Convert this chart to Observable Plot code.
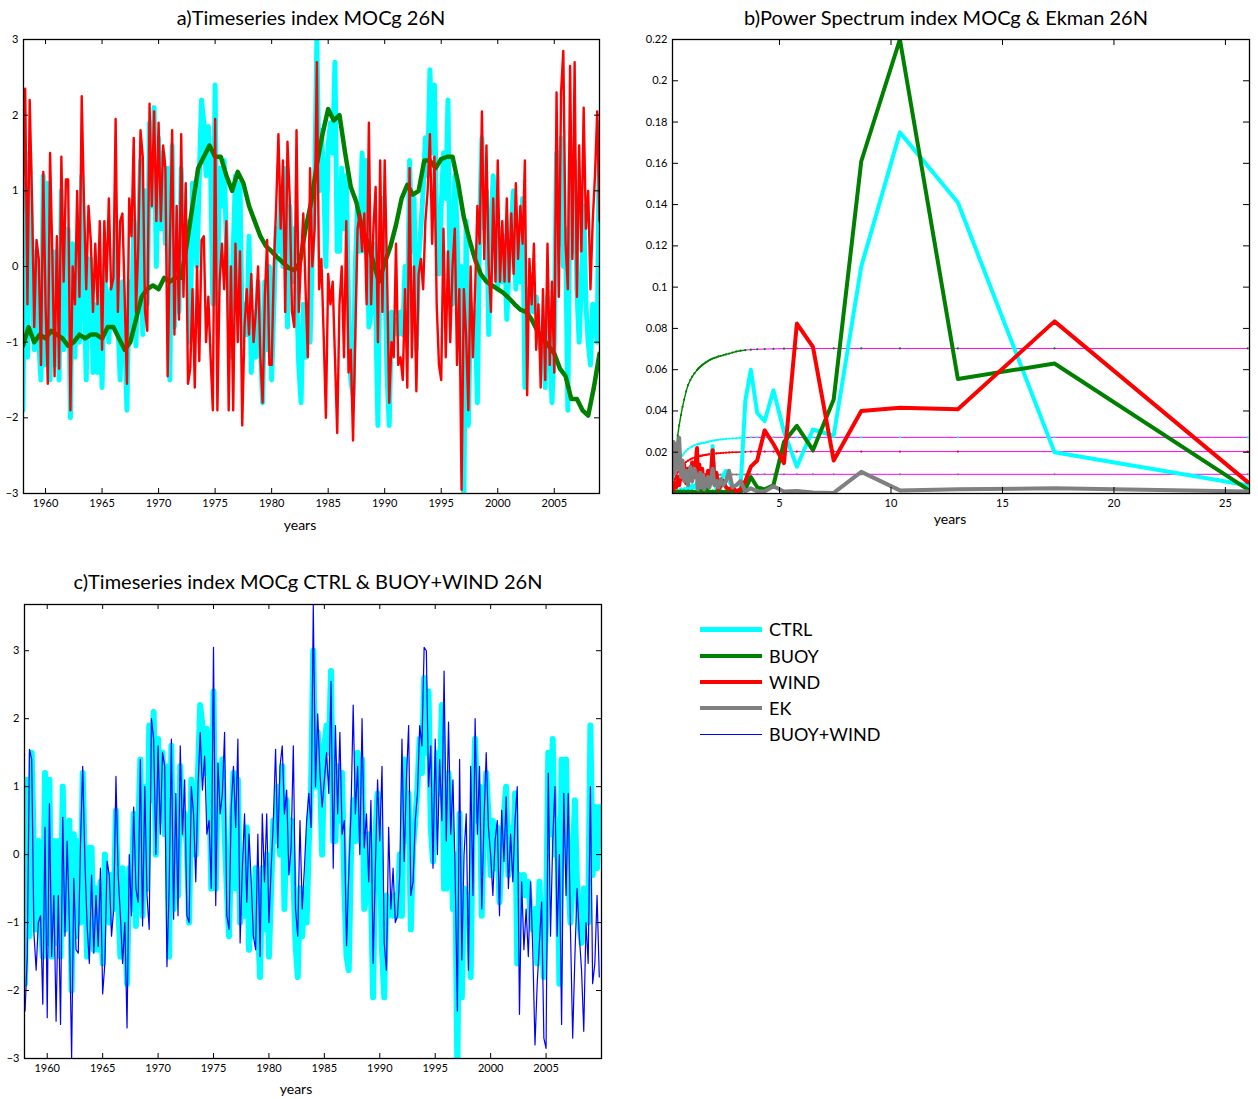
<!DOCTYPE html>
<html><head><meta charset="utf-8">
<script src="https://cdn.jsdelivr.net/npm/d3@7"></script>
<script src="https://cdn.jsdelivr.net/npm/@observablehq/plot@0.6"></script>
<style>
body{margin:0;background:#fff;}
#root{position:relative;width:1258px;height:1099px;font-family:Lato,"Noto Sans",sans-serif;color:#000;overflow:hidden;}
.lbl{position:absolute;white-space:nowrap;transform:translate(-50%,-50%);}
.title{font-size:20px;}
.years{font-size:14px;}
.leg{position:absolute;left:700px;font-size:18px;height:20px;display:flex;align-items:center;}
.leg span.ln{display:inline-block;width:62px;margin-right:7px;}
</style></head><body><div id="root"></div>
<script>
// ---------- DATA ----------
const t0 = 1958, dt = 0.2;        // 5 samples per year
const ctrl = [
-1.9,1.1,-1.2,1.5,0.0,  -1.1,0.2,-1.0,-1.5,1.2,  -1.3,1.1,-1.5,0.2,-1.3,  0.2,-1.5,1.0,-1.1,-0.3,
0.5,-2.0,0.3,-1.2,0.2,  -1.0,1.2,-0.2,-1.5,0.1,  0.1,-1.4,-0.5,-1.4,-0.4,  -1.6,0.0,-0.5,-1.0,-0.3,
-0.8,0.65,-0.7,-1.5,-0.2,  -0.9,-1.9,-0.2,-0.8,0.6,  -1.05,0.3,1.4,-0.9,1.0,  -0.5,1.9,0.8,2.1,0.0,
1.7,0.5,1.5,0.3,1.3,  -1.5,1.6,-0.8,0.5,-0.6,  1.3,0.3,0.6,0.1,-1.0,  1.1,0.5,0.0,1.2,2.2,
1.9,1.2,1.85,1.3,-0.5,  2.4,-0.5,1.3,0.8,1.4,  0.3,-0.5,-1.2,0.2,1.2,  -0.5,1.1,-1.0,-0.5,-0.9,
0.4,-1.4,-0.6,-1.2,-0.2,  -1.0,-1.8,-0.2,-1.1,0.0,  -1.5,-0.5,0.5,0.2,1.0,  0.0,1.3,-0.8,0.8,-0.2,
0.5,-0.3,-1.3,-1.8,-0.5,  -1.2,-0.5,-1.0,0.2,1.0,  3.0,1.0,1.8,1.2,0.0,  1.6,1.9,1.5,2.7,0.2,
0.2,1.3,0.5,1.2,-0.5,  -1.5,-1.7,0.0,0.8,0.2,  1.5,0.2,1.4,-0.8,-0.6,  0.3,-0.5,-2.1,0.3,0.9,
0.0,-1.4,-2.1,-0.6,-0.9,  -0.7,-0.9,-0.6,-0.9,0.0,  -0.9,1.4,0.2,0.9,-1.1,  0.1,0.5,1.0,1.7,1.2,
2.6,1.5,2.4,0.4,-0.1,  0.8,1.5,0.9,2.2,-0.5,  -0.5,1.2,0.5,-0.8,0.0,  -3.2,0.6,-2.1,-0.5,-1.0,
-0.6,-1.8,0.6,1.7,0.5,  1.0,-0.9,0.5,1.2,0.6,  -0.3,0.5,-0.2,0.4,-0.7,  0.0,0.6,1.0,-0.3,0.4,
-0.2,0.9,-1.6,-0.3,-0.6,  -0.3,-0.6,-0.4,-0.9,-1.1,  -0.8,-1.6,-0.4,-1.1,-1.8,  -1.0,1.5,0.3,1.7,0.0,
0.5,-1.9,1.4,0.2,1.4,  -0.3,-1.0,-0.2,0.8,-0.5,  -1.0,-1.3,-0.5,-0.6,-1.0,  1.9,-0.3,0.7,-0.2,0.7
];
const wind = [
0.7,2.35,-0.5,2.2,0.9,  -0.8,0.35,0.1,-1.3,1.25,  -0.5,-1.55,1.5,0.15,-1.45,  0.4,-1.35,1.45,-0.2,1.15,
1.15,-1.9,0.0,-0.5,1.0,  -0.4,2.25,0.85,-0.3,0.8,  0.35,-0.6,0.3,-0.5,0.6,  -1.1,0.6,-0.2,0.9,-0.3,
-0.15,1.95,-0.6,0.6,0.7,  -0.4,-1.55,0.9,0.4,1.7,  -0.6,0.25,1.8,1.45,-0.6,  -0.85,2.15,0.8,2.05,0.6,
1.9,0.6,1.6,1.3,-1.45,  0.3,1.8,-0.9,0.8,-0.7,  1.75,-0.4,1.1,-1.55,-1.35,  -0.3,-1.6,0.0,-1.25,0.35,
0.4,-1.0,-0.4,-1.2,-1.9,  1.95,-1.9,-0.2,0.3,-0.3,  0.6,-1.9,0.0,-1.9,0.3,  -1.0,0.2,-2.1,-0.8,-0.3,
-0.9,-0.1,-1.0,-0.6,0.0,  -1.2,-1.8,-0.4,0.35,-1.3,  -1.3,0.0,0.8,1.75,0.5,  1.4,-0.6,1.65,0.9,-0.6,
-0.8,1.8,-0.6,0.1,0.7,  -0.3,-1.2,1.3,0.0,0.5,  2.7,-0.3,0.1,-0.9,-2.0,  -0.1,-0.5,-0.2,-1.2,-2.2,
-0.5,0.0,-1.2,0.6,-1.4,  -1.1,-2.3,-0.9,0.5,0.7,  0.2,0.7,-0.5,1.9,-0.5,  0.5,1.05,-1.0,1.4,-0.6,
1.4,0.0,-1.8,-1.0,-1.2,  0.3,-1.3,-1.2,-1.5,-0.3,  -1.6,1.3,-1.2,0.0,-1.65,  -0.1,0.1,-0.3,0.6,1.0,
1.75,0.3,1.45,-0.5,-1.3,  -1.5,0.5,-1.2,0.2,-1.0,  0.0,0.5,-1.3,-0.3,-2.95,  -0.3,-0.9,-1.9,0.0,-1.2,
-0.3,0.8,0.3,2.05,0.1,  1.6,0.0,-0.6,0.9,-0.2,  1.4,-0.2,0.6,-0.2,0.9,  -0.2,0.7,-0.1,1.1,0.1,
0.8,0.3,1.4,-1.7,0.1,  -0.5,0.3,-1.1,-0.5,-1.6,  -0.3,-1.5,0.3,-1.3,-0.2,  -1.4,2.3,-0.4,2.3,2.85,
0.3,-0.3,2.65,0.1,2.7,  -0.4,1.6,0.2,2.1,0.5,  1.0,-0.3,0.6,1.2,2.05,  0.6,1.0,-0.2,0.5,0.0
];
const buoyWind = [
-2.3,-1.5,1.55,1.4,-1.15,  -1.7,-1.0,-0.9,-2.2,0.4,  -2.4,0.75,-1.5,-0.6,-2.45,  -0.6,-2.5,0.55,-1.2,0.2,
-1.0,-3.0,-0.35,-1.4,-1.45,  0.15,1.3,-0.1,-1.05,-1.6,  -0.3,-1.45,-0.6,-1.35,-0.2,  -2.05,-1.6,-0.1,-0.3,-1.2,
-0.8,1.15,-0.3,-0.9,-1.6,  -1.0,-2.55,0.0,-0.9,0.7,  -0.5,-0.7,1.4,-1.05,1.0,  -0.6,-1.1,2.0,1.7,0.0,
1.6,0.3,1.5,1.3,-1.65,  -0.5,1.7,-0.95,0.9,-0.9,  1.6,0.3,1.1,-0.9,-1.0,  1.0,0.6,-0.4,1.0,1.8,
0.95,1.45,0.3,0.5,-0.5,  3.05,-0.75,1.35,0.6,0.9,  1.8,-0.9,-1.1,0.7,1.3,  0.4,1.7,-1.3,-0.2,0.6,
-0.7,0.3,-0.4,-1.2,-1.4,  0.3,-1.5,0.6,-0.4,0.6,  -1.0,-0.2,0.5,1.55,0.1,  1.3,1.6,0.6,0.95,-0.3,
0.1,1.6,-0.8,-1.2,0.5,  -0.8,-0.2,0.5,0.9,0.4,  3.68,1.0,2.07,1.2,0.7,  1.1,1.5,0.9,2.55,-0.2,
1.9,0.6,1.8,0.3,0.5,  -1.34,-0.3,0.6,2.2,0.6,  1.3,0.0,2.0,0.1,0.6,  -0.4,0.8,-1.6,-0.2,1.1,
0.2,1.3,-1.3,-1.7,0.4,  -0.8,-0.2,-1.0,-0.9,-0.3,  1.7,-0.1,1.1,1.9,-0.6,  -0.4,0.5,0.9,1.9,1.6,
3.05,3.0,1.0,1.6,-0.2,  1.7,0.0,1.4,0.5,2.7,  0.2,1.95,0.3,1.1,-0.3,  -2.3,1.4,-1.55,0.0,0.6,
-1.7,1.3,-0.6,2.0,0.3,  1.3,-0.8,0.5,1.5,0.4,  0.0,-0.6,0.2,0.5,-0.9,  0.65,-0.1,0.85,-0.5,0.3,
-0.4,0.5,1.0,-2.35,-0.4,  -1.4,-0.8,-1.5,-0.4,-1.4,  -2.8,-1.9,-1.3,-0.7,-2.7,  -2.85,1.2,-1.2,0.2,1.0,
-1.2,0.0,-2.5,0.9,-0.6,  0.9,-1.1,-2.7,-1.5,-0.5,  -1.2,-1.7,-2.6,-1.0,-1.6,  1.0,-1.9,-1.6,-0.6,-1.8
];
const buoyT0 = 1958, buoyDt = 0.5; // 2 samples per year
const buoy = [
-1.05,-0.8, -1.0,-0.9, -0.95,-0.85, -0.9,-0.95, -1.05,-1.0, -0.9,-0.95, -0.9,-0.9, -0.95,-0.8,
-0.8,-0.95, -1.1,-1.0, -0.7,-0.4, -0.3,-0.25, -0.3,-0.15, -0.2,-0.15, -0.15,0.3, 0.8,1.3,
1.45,1.6, 1.45,1.45, 1.2,1.0, 1.25,1.1, 0.8,0.6, 0.4,0.27, 0.2,0.12, 0.05,-0.02,
-0.05,0.05, 0.5,0.85, 1.35,1.75, 2.08,1.93, 2.0,1.5, 1.05,0.85, 0.5,0.32, 0.05,-0.2,
0.05,0.26, 0.55,0.9, 1.08,0.95, 1.0,1.4, 1.4,1.3, 1.42,1.45, 1.45,1.1, 0.65,0.35,
0.09,-0.1, -0.2,-0.25, -0.3,-0.35, -0.42,-0.5, -0.57,-0.6, -0.7,-0.85, -0.95,-1.05, -1.15,-1.35,
-1.45,-1.75, -1.75,-1.9, -1.97,-1.6, -1.15,-1.1
];

// Power spectrum: periods (years) and values
const periods = [26,17.333,13,10.4,8.667,7.429,6.5,5.778,5.2,4.727,4.333,4,3.714,
3.467,3.25,3.059,2.889,2.737,2.6,2.476,2.364,2.261,2.167,2.08,2,1.926,1.857,1.793,1.733,1.677,1.625,1.576,1.529,1.486,1.444,1.405,1.368,1.333,1.3,
1.182,1.083,1,0.897,0.8125,0.722,0.65,0.578,0.5,0.433,0.371,0.306,0.248,0.2,0.167];
const specCTRL = [0.004,0.02,0.141,0.175,0.11,0.028,0.031,0.013,0.03,0.05,0.035,0.039,0.06,
0.045,0.002,0.001,0.003,0.006,0.011,0.009,0.003,0.005,0.002,0.008,0.023,0.01,0.004,0.006,0.003,0.005,0.002,0.004,0.006,0.003,0.005,0.002,0.004,0.003,0.005,
0.003,0.004,0.002,0.003,0.002,0.002,0.001,0.002,0.001,0.001,0.001,0.001,0.0005,0.0005,0.0005];
const specBUOY = [0.002,0.063,0.0555,0.22,0.161,0.0455,0.021,0.0328,0.025,0.004,0.002,0.003,0.008,
0.002,0.001,0.0005,0.001,0.0005,0.001,0.0005,0.001,0.0005,0.001,0.0005,0.001,0.0005,0.001,0.0005,0.002,0.0005,0.001,0.0005,0.001,0.0005,0.002,0.0005,0.001,0.0005,0.001,
0.0005,0.001,0.0005,0.001,0.0005,0.001,0.0005,0.001,0.0005,0.001,0.0005,0.001,0.0005,0.001,0.0005];
const specWIND = [0.0055,0.0834,0.0408,0.0415,0.04,0.016,0.071,0.0823,0.0147,0.024,0.0306,0.016,0.013,
0.006,0.002,0.001,0.003,0.002,0.003,0.006,0.004,0.002,0.01,0.006,0.021,0.008,0.005,0.011,0.007,0.004,0.009,0.006,0.012,0.005,0.008,0.014,0.01,0.009,0.022,
0.008,0.015,0.008,0.012,0.005,0.014,0.007,0.01,0.004,0.008,0.003,0.005,0.002,0.003,0.001];
const specEK = [0.001,0.0025,0.002,0.0015,0.0105,0.0003,0.0005,0.0012,0.001,0.0035,0.001,0.001,0.0025,
0.001,0.006,0.004,0.003,0.011,0.006,0.004,0.007,0.003,0.006,0.004,0.012,0.006,0.003,0.008,0.004,0.007,0.002,0.009,0.005,0.003,0.01,0.004,0.007,0.002,0.008,
0.012,0.006,0.013,0.004,0.011,0.006,0.016,0.008,0.027,0.012,0.024,0.01,0.025,0.008,0.022];
const sigCTRL = [0.0272,0.0272,0.0272,0.0272,0.0272,0.0272,0.0272,0.0272,0.0272,0.0272,0.0272,0.0272,0.0272,
0.0271,0.027,0.0268,0.0267,0.0266,0.0264,0.0263,0.0262,0.026,0.0259,0.0257,0.0256,0.0254,0.0252,0.025,0.0249,0.0247,0.0246,0.0245,0.0244,0.0243,0.0242,0.0241,0.024,0.0239,0.0238,
0.0233,0.0228,0.0223,0.0215,0.0207,0.0196,0.0185,0.0172,0.0155,0.0138,0.012,0.0098,0.0076,0.0055,0.0042];
const sigBUOY = [0.0703,0.0703,0.0703,0.0703,0.0703,0.0703,0.0703,0.0703,0.0702,0.0701,0.07,0.0699,0.0697,
0.0695,0.0692,0.0688,0.0683,0.0678,0.0674,0.067,0.0667,0.0664,0.066,0.0657,0.0654,0.065,0.0646,0.0642,0.0638,0.0634,0.063,0.0626,0.0622,0.0618,0.0614,0.061,0.0606,0.0602,0.0598,
0.0582,0.0566,0.055,0.0525,0.0495,0.0455,0.042,0.038,0.033,0.028,0.022,0.016,0.011,0.007,0.005];
const sigWIND = [0.0203,0.0203,0.0203,0.0203,0.0203,0.0203,0.0203,0.0203,0.0203,0.0203,0.0203,0.0203,0.0203,
0.0202,0.0201,0.02,0.02,0.0199,0.0198,0.0197,0.0196,0.0195,0.0194,0.0193,0.0192,0.0191,0.019,0.0189,0.0188,0.0187,0.0186,0.0185,0.0184,0.0183,0.0182,0.0181,0.018,0.0179,0.0178,
0.0174,0.017,0.0165,0.0159,0.0153,0.0145,0.0137,0.0127,0.0115,0.0102,0.0088,0.0071,0.0053,0.0036,0.0026];
const sigEK = [0.0093,0.0093,0.0093,0.0093,0.0093,0.0093,0.0093,0.0093,0.0093,0.0093,0.0093,0.0093,0.0093,
0.0092,0.0092,0.0092,0.0092,0.0092,0.0092,0.0091,0.0091,0.0091,0.0091,0.0091,0.0091,0.009,0.009,0.009,0.009,0.009,0.009,0.0089,0.0089,0.0089,0.0089,0.0089,0.0089,0.0089,0.0089,
0.0087,0.0085,0.0083,0.008,0.0077,0.0073,0.0069,0.0064,0.0058,0.0052,0.0045,0.0037,0.0029,0.0021,0.0016];

const yearTicksA = [1960,1965,1970,1975,1980,1985,1990,1995,2000,2005];
const valTicksA = [-3,-2,-1,0,1,2,3];
const periodTicks = [5,10,15,20,25];
const powerTicks = [0.02,0.04,0.06,0.08,0.1,0.12,0.14,0.16,0.18,0.2,0.22];

const legendNames = ["CTRL","BUOY","WIND","EK","BUOY+WIND"];
const legendColors = ["#00ffff","#008000","#ff0000","#808080","#0000ff"];
const legendWidths = [5,4,4,4,1];

// ---------- HELPERS ----------
const C = {ctrl:"#00ffff", buoy:"#008000", wind:"#ff0000", ek:"#808080", bw:"#0000ff", sig:"#ff00ff"};
const ts = (arr, s, d) => arr.map((v, i) => ({t: s + i * d, v}));
const fmtSigned = d => d < 0 ? "\u2212" + Math.abs(d) : String(d);
const root = document.getElementById("root");

function panel({left, top, width, height, mL, mR, mT, mB, xDomain, yDomain, xTicks, yTicks, yFmt, marks, tick}) {
  const fw = width - mL - mR, fh = height - mT - mB, k = tick || 5;
  const svg = Plot.plot({
    width, height, marginLeft: mL, marginRight: mR, marginTop: mT, marginBottom: mB,
    x: {domain: xDomain},
    y: {domain: yDomain},
    style: {fontFamily: "Lato, 'Noto Sans', sans-serif", fontSize: "11px", background: "transparent", overflow: "visible", color: "#000"},
    marks: [
      ...marks,
      Plot.tickX(xTicks, {x: d => d, insetTop: fh - k, stroke: "#000", strokeWidth: 1}),
      Plot.tickX(xTicks, {x: d => d, insetBottom: fh - k, stroke: "#000", strokeWidth: 1}),
      Plot.tickY(yTicks, {y: d => d, insetRight: fw - k, stroke: "#000", strokeWidth: 1}),
      Plot.tickY(yTicks, {y: d => d, insetLeft: fw - k, stroke: "#000", strokeWidth: 1}),
      Plot.axisX(xTicks, {anchor: "bottom", tickSize: 0, tickPadding: 6, label: null, tickFormat: d => String(d)}),
      Plot.axisY(yTicks, {anchor: "left", tickSize: 0, tickPadding: 5, label: null, tickFormat: yFmt}),
      Plot.frame({stroke: "#000", strokeWidth: 1.3})
    ]
  });
  svg.style.position = "absolute";
  svg.style.left = left + "px";
  svg.style.top = top + "px";
  root.appendChild(svg);
}
function label(text, x, y, cls) {
  const d = document.createElement("div");
  d.className = "lbl " + cls;
  d.style.left = x + "px"; d.style.top = y + "px";
  d.textContent = text;
  root.appendChild(d);
}

const ctrlD = ts(ctrl, t0, dt), windD = ts(wind, t0, dt), bwD = ts(buoyWind, t0, dt), buoyD = ts(buoy, buoyT0, buoyDt);

// ---------- PANEL A ----------
panel({left: 0, top: 0, width: 620, height: 540, mL: 23, mR: 21, mT: 39, mB: 47,
  xDomain: [1958.05, 2009], yDomain: [-3, 3], xTicks: yearTicksA, yTicks: valTicksA, yFmt: fmtSigned,
  marks: [
    Plot.line(ctrlD, {x: "t", y: "v", stroke: C.ctrl, strokeWidth: 5, clip: true}),
    Plot.line(buoyD, {x: "t", y: "v", stroke: C.buoy, strokeWidth: 4.5, clip: true}),
    Plot.line(windD, {x: "t", y: "v", stroke: C.wind, strokeWidth: 2.4, clip: true})
  ]});

// ---------- PANEL B ----------
const specs = [[specCTRL, C.ctrl], [specBUOY, C.buoy], [specWIND, C.wind], [specEK, C.ek]];
const sigs = [[sigCTRL, C.ctrl], [sigBUOY, C.buoy], [sigWIND, C.wind], [sigEK, C.ek]];
const bMarks = [];
for (const [arr, col] of sigs) {
  bMarks.push(Plot.line(periods, {x: d => d, y: (d, i) => arr[i], filter: d => d <= 3.5, stroke: col, strokeWidth: 1.4, clip: true}));
  bMarks.push(Plot.line(periods, {x: d => d, y: (d, i) => arr[i], filter: d => d >= 3.4, stroke: C.sig, strokeWidth: 1, clip: true}));
  bMarks.push(Plot.dot(periods, {x: d => d, y: (d, i) => arr[i], r: 1.1, fill: col, stroke: null, clip: true}));
}
for (const [arr, col] of specs) {
  bMarks.push(Plot.line(periods, {x: d => d, y: (d, i) => arr[i], stroke: col, strokeWidth: 4, clip: true}));
}
panel({left: 630, top: 0, width: 628, height: 540, mL: 42, mR: 9, mT: 39, mB: 47,
  xDomain: [0.2, 26.08], yDomain: [0, 0.22], xTicks: periodTicks, yTicks: powerTicks, yFmt: d => String(d),
  marks: bMarks, tick: 6});

// ---------- PANEL C ----------
panel({left: 0, top: 560, width: 620, height: 540, mL: 24, mR: 19, mT: 44, mB: 42,
  xDomain: [1957.95, 2010], yDomain: [-3, 3.68], xTicks: yearTicksA, yTicks: valTicksA, yFmt: fmtSigned,
  marks: [
    Plot.line(ctrlD, {x: "t", y: "v", stroke: C.ctrl, strokeWidth: 6, clip: true}),
    Plot.line(bwD, {x: "t", y: "v", stroke: C.bw, strokeWidth: 1.2, clip: true})
  ]});

// ---------- TEXT ----------
label("a)Timeseries index MOCg 26N", 311, 17, "title");
label("b)Power Spectrum index MOCg & Ekman 26N", 946, 17, "title");
label("c)Timeseries index MOCg CTRL & BUOY+WIND 26N", 308, 581, "title");
label("years", 300, 524, "years");
label("years", 950, 518, "years");
label("years", 296, 1088, "years");

// ---------- LEGEND ----------
const legTops = [629, 656, 682, 708, 734];
legendNames.forEach((n, i) => {
  const row = document.createElement("div");
  row.className = "leg";
  row.style.top = (legTops[i] - 10) + "px";
  const ln = document.createElement("span");
  ln.className = "ln";
  ln.style.height = legendWidths[i] + "px";
  ln.style.background = legendColors[i];
  row.appendChild(ln);
  const tx = document.createElement("span");
  tx.textContent = n;
  row.appendChild(tx);
  root.appendChild(row);
});
</script></body></html>
